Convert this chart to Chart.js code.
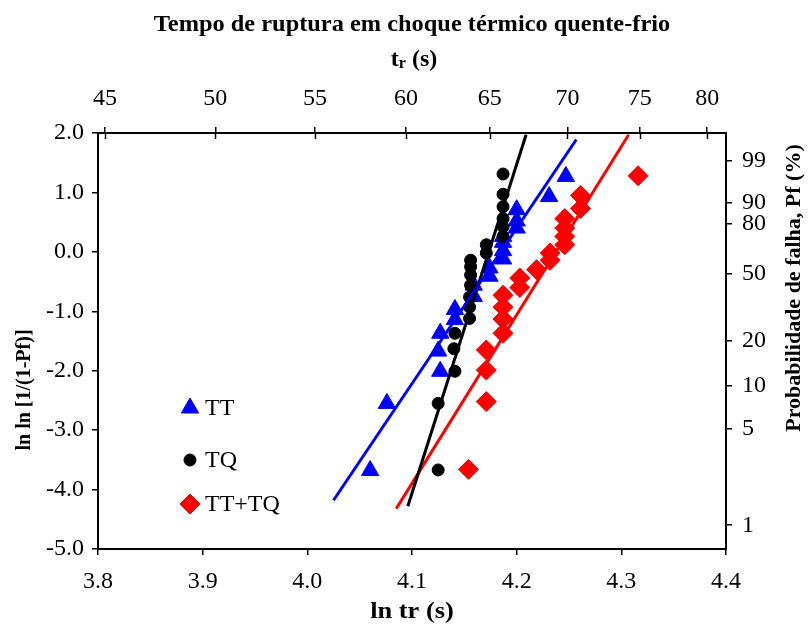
<!DOCTYPE html>
<html>
<head>
<meta charset="utf-8">
<script src="https://cdn.jsdelivr.net/npm/chart.js@4.4.1/dist/chart.umd.min.js"></script>
<style>
  html, body { margin: 0; padding: 0; background: #fff; }
  #wrap { width: 812px; height: 628px; }
</style>
</head>
<body>
<div id="wrap"><canvas id="chart" width="812" height="628"></canvas></div>
<script>
// data: x = ln tr, y = ln ln [1/(1-Pf)]
const ttX = [4.060, 4.076, 4.127, 4.125, 4.127, 4.141, 4.141, 4.159, 4.159, 4.174,
             4.174, 4.187, 4.187, 4.187, 4.187, 4.200, 4.200, 4.200, 4.231, 4.247];
const ttY = [-3.68, -2.55, -2.01, -1.67, -1.37, -1.14, -0.97, -0.75, -0.56, -0.41,
             -0.27, -0.12, 0.02, 0.16, 0.26, 0.40, 0.52, 0.71, 0.93, 1.27];

const tqX = [4.125, 4.125, 4.141, 4.140, 4.141, 4.155, 4.155, 4.155, 4.156, 4.156,
             4.156, 4.156, 4.171, 4.171, 4.187, 4.187, 4.187, 4.187, 4.187, 4.187];
const tqY = [-3.67, -2.55, -2.01, -1.63, -1.37, -1.12, -0.93, -0.76, -0.56, -0.39,
             -0.25, -0.14, -0.02, 0.12, 0.26, 0.42, 0.56, 0.76, 0.97, 1.31];

const mixX = [4.154, 4.171, 4.171, 4.171, 4.187, 4.187, 4.187, 4.187, 4.203, 4.203,
              4.219, 4.232, 4.232, 4.246, 4.246, 4.246, 4.246, 4.261, 4.261, 4.316];
const mixY = [-3.66, -2.52, -1.99, -1.65, -1.37, -1.13, -0.93, -0.73, -0.60, -0.44,
              -0.30, -0.14, -0.02, 0.12, 0.26, 0.40, 0.56, 0.73, 0.95, 1.28];

// fitted lines (end points)
const ttFitX = [4.025, 4.257];
const ttFitY = [-4.18, 1.89];
const tqFitX = [4.096, 4.209];
const tqFitY = [-4.28, 1.97];
const mixFitX = [4.085, 4.307];
const mixFitY = [-4.32, 1.97];

// secondary axes tick labels
const trTicks = [45, 50, 55, 60, 65, 70, 75, 80];
const pfTicks = [1, 5, 10, 20, 50, 80, 90, 99];

const titleText = 'Tempo de ruptura em choque térmico quente-frio';
const xTitle = 'ln tr (s)';
const yTitle = 'ln ln [1/(1-Pf)]';
const y2Title = 'Probabilidade de falha, Pf (%)';

const legendItems = [
  { label: 'TT', style: 'triangle', color: '#0000ff', r: 10 },
  { label: 'TQ', style: 'circle', color: '#000000', r: 6 },
  { label: 'TT+TQ', style: 'rectRot', color: '#ff0000', r: 10 }
];

const FONT = '"Liberation Serif", "Times New Roman", serif';

function pts(xs, ys) { return xs.map((x, i) => ({ x: x, y: ys[i] })); }

function axisLook(pad) {
  return {
    grid: { display: true, drawOnChartArea: false, drawTicks: true, tickLength: 6, color: '#000', lineWidth: 1.5 },
    border: { display: true, color: '#000', width: 2 },
    ticks: { color: '#000', font: { family: FONT, size: 24 }, padding: pad, autoSkip: false, maxRotation: 0 }
  };
}

const sx = axisLook(12);
sx.position = 'bottom'; sx.type = 'linear'; sx.min = 3.8; sx.max = 4.4;
sx.ticks.stepSize = 0.1;
sx.ticks.callback = v => v.toFixed(1);
sx.afterFit = s => { s.height = 79; };

const sx2 = axisLook(14);
sx2.position = 'top'; sx2.type = 'linear'; sx2.min = 3.8; sx2.max = 4.4;
sx2.afterBuildTicks = s => { s.ticks = trTicks.map(t => ({ value: Math.log(t) })); };
sx2.ticks.callback = v => String(Math.round(Math.exp(v)));
sx2.afterFit = s => { s.height = 133; };

const sy = axisLook(8);
sy.position = 'left'; sy.type = 'linear'; sy.min = -5; sy.max = 2;
sy.ticks.stepSize = 1;
sy.ticks.callback = v => v.toFixed(1);
sy.afterFit = s => { s.width = 98; };

const sy2 = axisLook(10);
sy2.position = 'right'; sy2.type = 'linear'; sy2.min = -5; sy2.max = 2;
sy2.afterBuildTicks = s => { s.ticks = pfTicks.map(p => ({ value: Math.log(-Math.log(1 - p / 100)) })); };
sy2.ticks.callback = v => String(Math.round(100 * (1 - Math.exp(-Math.exp(v)))));
sy2.afterFit = s => { s.width = 86; };

// text stretched a little sideways, as in the picture
function wideText(ctx, txt, x, y, sxf) {
  ctx.save();
  ctx.translate(x, y);
  ctx.scale(sxf, 1);
  ctx.fillText(txt, 0, 0);
  ctx.restore();
}

const decor = {
  id: 'decor',
  afterDraw(chart) {
    const ctx = chart.ctx;
    const a = chart.chartArea;
    ctx.save();
    // top ticks also cross inward
    ctx.strokeStyle = '#000';
    ctx.lineWidth = 1.5;
    chart.scales.x2.ticks.forEach(t => {
      const px = Math.round(chart.scales.x2.getPixelForValue(t.value)) + 0.5;
      ctx.beginPath(); ctx.moveTo(px, a.top); ctx.lineTo(px, a.top + 6); ctx.stroke();
    });

    ctx.fillStyle = '#000';
    ctx.textAlign = 'center';
    ctx.textBaseline = 'middle';
    ctx.font = 'bold 23px ' + FONT;
    wideText(ctx, titleText, 412, 25, 1.06);

    // "tr (s)" with small r
    ctx.font = 'bold 24px ' + FONT;
    const w1 = ctx.measureText('t').width;
    ctx.font = 'bold 16px ' + FONT;
    const w2 = ctx.measureText('r').width;
    ctx.font = 'bold 24px ' + FONT;
    const w3 = ctx.measureText(' (s)').width;
    let x0 = 414 - (w1 + w2 + w3) / 2;
    ctx.textAlign = 'left';
    ctx.fillText('t', x0, 60);
    ctx.font = 'bold 16px ' + FONT;
    ctx.fillText('r', x0 + w1, 64);
    ctx.font = 'bold 24px ' + FONT;
    ctx.fillText(' (s)', x0 + w1 + w2, 60);

    ctx.textAlign = 'center';
    wideText(ctx, xTitle, 412, 612, 1.1);

    ctx.save();
    ctx.font = 'bold 20px ' + FONT;
    ctx.translate(25, 390);
    ctx.rotate(-Math.PI / 2);
    ctx.fillText(yTitle, 0, 0);
    ctx.restore();

    ctx.save();
    ctx.font = 'bold 22px ' + FONT;
    ctx.translate(794, 288);
    ctx.rotate(-Math.PI / 2);
    ctx.fillText(y2Title, 0, 0);
    ctx.restore();

    // legend
    ctx.font = '24px ' + FONT;
    ctx.textAlign = 'left';
    const rows = [408, 460, 504];
    legendItems.forEach((it, i) => {
      ctx.fillStyle = it.color;
      ctx.strokeStyle = it.color;
      ctx.lineWidth = 1;
      Chart.helpers.drawPoint(ctx, { pointStyle: it.style, radius: it.r, rotation: 0, borderWidth: 1 }, 190, rows[i]);
      ctx.fillStyle = '#000';
      ctx.fillText(it.label, 205, rows[i] + 1);
    });
    ctx.restore();
  }
};

function initChart() {
  new Chart(document.getElementById('chart').getContext('2d'), {
    type: 'scatter',
    data: {
      datasets: [
        { label: 'TT', data: pts(ttX, ttY), pointStyle: 'triangle', pointRadius: 10, backgroundColor: '#0000ff', borderColor: '#0000ff', borderWidth: 1, order: 3 },
        { label: 'TQ', data: pts(tqX, tqY), pointStyle: 'circle', pointRadius: 6, backgroundColor: '#000', borderColor: '#000', borderWidth: 1, order: 2 },
        { label: 'TT+TQ', data: pts(mixX, mixY), pointStyle: 'rectRot', pointRadius: 10, backgroundColor: '#ff0000', borderColor: '#ff0000', borderWidth: 1, order: 1 },
        { label: 'fitTT', data: pts(ttFitX, ttFitY), showLine: true, pointRadius: 0, borderColor: '#0000ff', borderWidth: 3, order: 0 },
        { label: 'fitTQ', data: pts(tqFitX, tqFitY), showLine: true, pointRadius: 0, borderColor: '#000', borderWidth: 3, order: 0 },
        { label: 'fitMix', data: pts(mixFitX, mixFitY), showLine: true, pointRadius: 0, borderColor: '#ff0000', borderWidth: 3, order: 0 }
      ]
    },
    options: {
      responsive: false,
      animation: false,
      layout: { padding: 0 },
      plugins: { legend: { display: false }, tooltip: { enabled: false } },
      scales: { x: sx, x2: sx2, y: sy, y2: sy2 }
    },
    plugins: [decor]
  });
}
document.addEventListener('DOMContentLoaded', initChart);
</script>
</body>
</html>
